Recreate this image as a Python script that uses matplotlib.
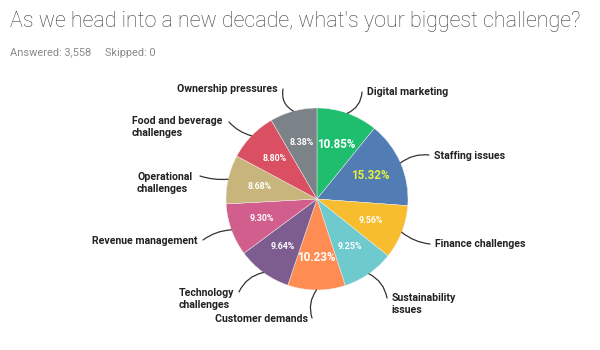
import numpy as np
import matplotlib
matplotlib.use("Agg")
import matplotlib.pyplot as plt

# survey answers, clockwise from 12 o'clock
categories = ["Digital marketing", "Staffing issues", "Finance challenges",
              "Sustainability\nissues", "Customer demands", "Technology\nchallenges",
              "Revenue management", "Operational\nchallenges",
              "Food and beverage\nchallenges", "Ownership pressures"]
shares = [10.85, 15.32, 9.56, 9.25, 10.23, 9.64, 9.30, 8.68, 8.80, 8.38]
share_labels = ["10.85%", "15.32%", "9.56%", "9.25%", "10.23%",
                "9.64%", "9.30%", "8.68%", "8.80%", "8.38%"]
answered = "3,558"
skipped = "0"

colors = ["#1fbe6f", "#517cb4", "#f8bd2f", "#6fcace", "#ff8c52",
          "#7d5d90", "#d15e8d", "#c8b57b", "#da4f62", "#7b8388"]

W, H = 600, 350
fig = plt.figure(figsize=(6, 3.5), dpi=100)
ax = fig.add_axes([0, 0, 1, 1])

cx, cy, R = 317, H - 199, 91
wedges, _ = ax.pie(shares, colors=colors, startangle=90, counterclock=False,
                   center=(cx, cy), radius=R,
                   wedgeprops=dict(linewidth=0.3, edgecolor="#f4f4f4"))
ax.set_xlim(0, W)
ax.set_ylim(0, H)
ax.set_aspect("equal")
ax.axis("off")

pct_font = dict(family=["Roboto", "DejaVu Sans"], weight="bold")
for w, t in zip(wedges, share_labels):
    mid = np.deg2rad((w.theta1 + w.theta2) / 2)
    big = float(t[:-1]) >= 10
    ax.text(cx + 0.64 * R * np.cos(mid), cy + 0.64 * R * np.sin(mid), t,
            ha="center", va="center",
            color="#e6ef3a" if t == "15.32%" else "white",
            fontsize=8.4 if big else 6.4, **pct_font)

# label position (pixels), alignment, leader end (pixels), curve
label_layout = [
    ((367, 92), "left", (362, 92), -0.3),
    ((434, 156), "left", (429, 155), 0.2),
    ((435, 244), "left", (430, 244), -0.15),
    ((392, 304), "left", (387, 298), 0.25),
    ((308, 319), "right", (312, 318), -0.25),
    ((179, 299), "left", (239, 292), -0.25),
    ((198, 241), "right", (203, 240), -0.15),
    ((137, 183), "left", (200, 176), 0.1),
    ((132, 127), "left", (229, 122), 0.15),
    ((278, 89), "right", (283, 89), 0.35),
]

for w, name, (tpos, ha, end, rad) in zip(wedges, categories, label_layout):
    mid = np.deg2rad((w.theta1 + w.theta2) / 2)
    edge = (cx + R * np.cos(mid), cy + R * np.sin(mid))
    ax.annotate("", xy=edge, xytext=(end[0], H - end[1]),
                arrowprops=dict(arrowstyle="-", color="#333333", lw=0.9,
                                shrinkA=0, shrinkB=0,
                                connectionstyle=f"arc3,rad={rad}"))
    ax.text(tpos[0], H - tpos[1], name, ha=ha, va="center", fontsize=7.6,
            fontweight="bold", color="#222222", linespacing=1.2,
            family=["Roboto", "DejaVu Sans"])

fig.text(10 / W, 1 - 22 / H, "As we head into a new decade, what's your biggest challenge?",
         fontsize=15.5, color="#3b3f44", va="center", ha="left",
         family=["Roboto", "DejaVu Sans"], fontweight="light")
fig.text(10 / W, 1 - 53 / H, f"Answered: {answered}     Skipped: {skipped}",
         fontsize=7.9, color="#8a8a8a", va="center", ha="left",
         family=["Roboto", "DejaVu Sans"])

fig.savefig("out.png", dpi=100, facecolor="white")
